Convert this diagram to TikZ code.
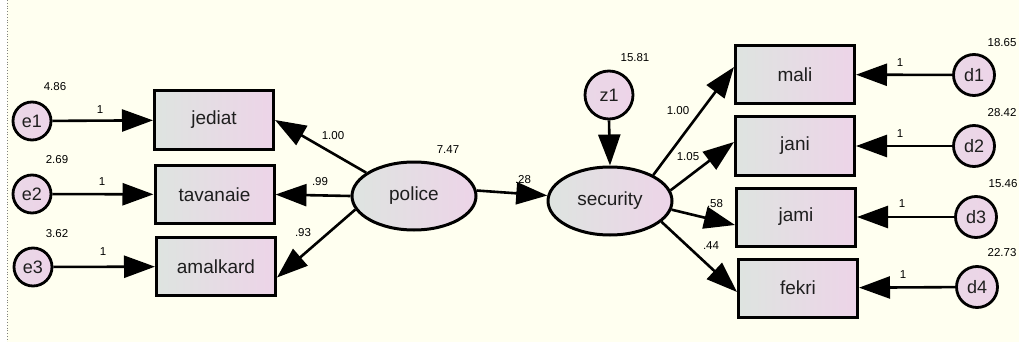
\documentclass[tikz,border=0pt]{standalone}
\usepackage{fontspec}
\setmainfont{Liberation Sans}
\usepackage{xcolor}
\usetikzlibrary{arrows.meta,shapes.geometric}
\definecolor{amosbg}{RGB}{255, 255, 240}
\definecolor{amosgreen}{RGB}{222, 228, 224}
\definecolor{amospink}{RGB}{237, 212, 232}
\definecolor{amosink}{RGB}{30, 30, 30}

\begin{document}
\begin{tikzpicture}[x=1pt, y=-1pt,
  observed/.style={draw=black, line width=3pt, left color=amosgreen, right color=amospink, minimum width=119pt, minimum height=58pt, text=amosink, font=\fontsize{19pt}{22pt}\selectfont},
  latent/.style={ellipse, draw=black, line width=3pt, left color=amosgreen, right color=amospink, minimum width=124pt, minimum height=68pt, inner sep=0pt, text=amosink, font=\fontsize{19pt}{22pt}\selectfont},
  errterm/.style={circle, draw=black, line width=2.8pt, left color=amospink!80!amosgreen, right color=amospink, minimum size=38pt, inner sep=0pt, text=amosink, font=\fontsize{18pt}{21pt}\selectfont},
  path/.style={line width=2.6pt, -{Triangle[length=31pt, width=22pt]}},
  est/.style={font=\fontsize{11.5pt}{13pt}\selectfont, inner sep=0pt}]
\useasboundingbox (0,0) rectangle (1019,342);
\fill[white] (0,0) rectangle (7,342);
\fill[amosbg] (7,0) rectangle (1019,342);
\draw[gray, line width=0.8pt, dotted] (7,0) -- (7,342);

% indicators of police
\node[observed] (jediat) at (214,120) {jediat};
\node[observed] (tavanaie) at (214.5,194.5) {tavanaie};
\node[observed] (amalkard) at (216,266.5) {amalkard};
\node[errterm] (e1) at (32,121) {e1};
\node[errterm] (e2) at (32,194) {e2};
\node[errterm] (e3) at (33,267) {e3};

% latent variables
\node[latent] (police) at (414,196) {police};
\node[latent] (security) at (610,201) {security};
\node[errterm, minimum size=48pt] (z1) at (609,95) {z1};

% indicators of security
\node[observed] (mali) at (795,74.5) {mali};
\node[observed] (jani) at (795,146) {jani};
\node[observed] (jami) at (796,217) {jami};
\node[observed] (fekri) at (798,288) {fekri};
\node[errterm, minimum size=41pt] (d1) at (974,75) {d1};
\node[errterm, minimum size=41pt] (d2) at (974,146) {d2};
\node[errterm, minimum size=41pt] (d3) at (976,217) {d3};
\node[errterm, minimum size=41pt] (d4) at (977,287) {d4};

% paths
\draw[path] (e1) -- (jediat);
\draw[path] (e2) -- (tavanaie);
\draw[path] (e3) -- (amalkard);
\draw[path] (police.154) -- (jediat.east);
\draw[path] (police.west) -- (tavanaie.east);
\draw[path] (police.193) -- ([yshift=-11pt]amalkard.east);
\draw[path] (police.5) -- (security.175);
\draw[path] (z1.south) -- (security.north);
\draw[path] (security.31) -- ([yshift=7.5pt]mali.west);
\draw[path] (security.10) -- ([yshift=4pt]jani.west);
\draw[path] (security.-8) -- ([yshift=-8pt]jami.west);
\draw[path] (security.-22) -- ([yshift=-4pt]fekri.west);
\draw[path] (d1) -- (mali);
\draw[path] (d2) -- (jani);
\draw[path] (d3) -- (jami);
\draw[path] (d4) -- (fekri);

% estimates
\node[est] (ve1) at (55,87) {4.86};
\node[est] (ve2) at (57,160) {2.69};
\node[est] (ve3) at (57,234) {3.62};
\node[est] (we1) at (100,110) {1};
\node[est] (we2) at (102,182) {1};
\node[est] (we3) at (103,252) {1};
\node[est] (lj) at (333,136) {1.00};
\node[est] (lt) at (320,182) {.99};
\node[est] (la) at (303,233) {.93};
\node[est] (vpolice) at (448,150) {7.47};
\node[est] (bsec) at (523,180) {.28};
\node[est] (vz1) at (635,58) {15.81};
\node[est] (lm) at (678,111) {1.00};
\node[est] (ln) at (688,157) {1.05};
\node[est] (lk) at (715,204) {.58};
\node[est] (lf) at (711,246) {.44};
\node[est] (vd1) at (1002,43) {18.65};
\node[est] (vd2) at (1002,113) {28.42};
\node[est] (vd3) at (1003,184) {15.46};
\node[est] (vd4) at (1002,253) {22.73};
\node[est] (wd1) at (900,63) {1};
\node[est] (wd2) at (900,134) {1};
\node[est] (wd3) at (902,204) {1};
\node[est] (wd4) at (903,275) {1};
\end{tikzpicture}
\end{document}
